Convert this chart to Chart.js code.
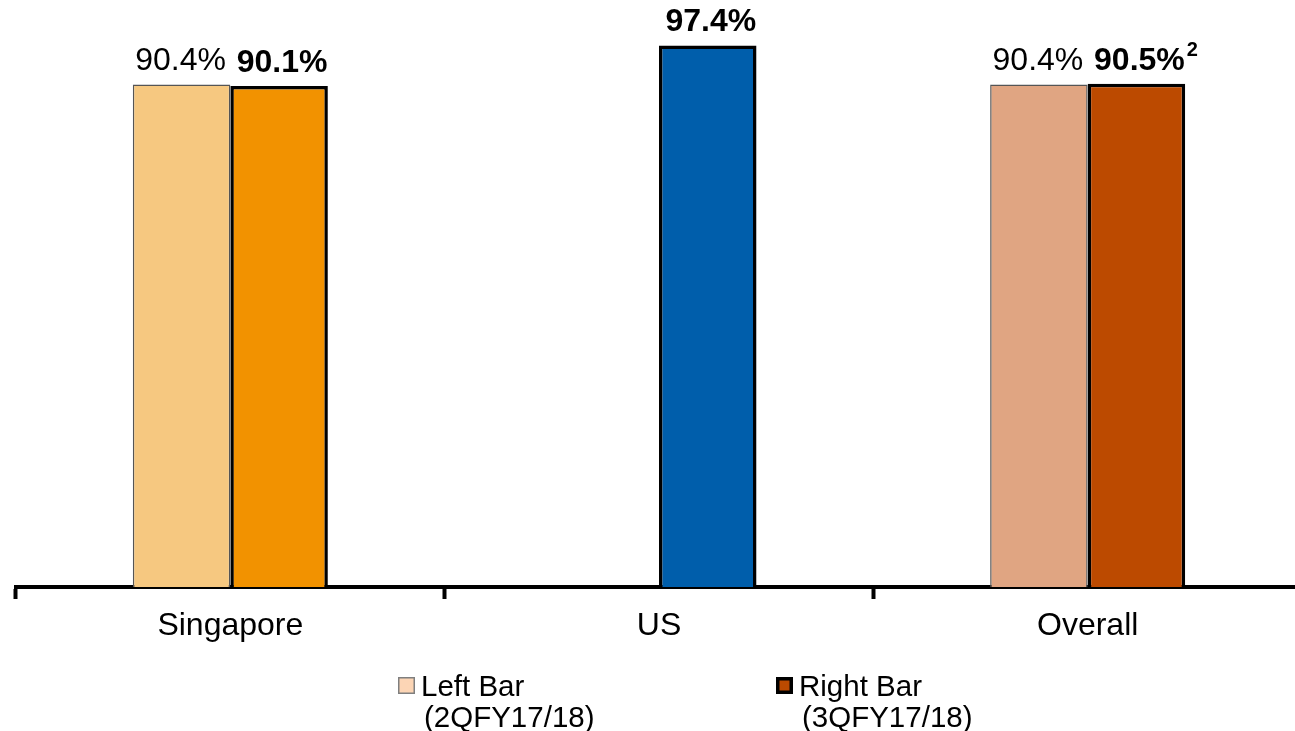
<!DOCTYPE html>
<html>
<head>
<meta charset="utf-8">
<script src="https://cdn.jsdelivr.net/npm/chart.js@4"></script>
<style>
  html, body { margin: 0; padding: 0; background: #fff; overflow: hidden; }
  #wrap { width: 1302px; height: 731px; position: relative; }
</style>
</head>
<body>
<div id="wrap"><canvas id="chart"></canvas></div>
<script>
const FONT = '"Liberation Sans", Arial, sans-serif';

// --- Data ---
const categories = ['Singapore', 'US', 'Overall'];
const leftValues = [90.4, null, 90.4];     // 2QFY17/18
const rightValues = [90.1, 97.4, 90.5];    // 3QFY17/18
const rightNotes = ['', '', '2'];          // superscript footnotes
const legendLabels = [['Left Bar', '(2QFY17/18)'], ['Right Bar', '(3QFY17/18)']];

const leftColors = ['#F6C880', 'rgba(0,0,0,0)', '#E0A582'];
const rightColors = ['#F29200', '#005EAB', '#BC4A00'];

// --- Plugins ---
const valueLabels = {
  id: 'valueLabels',
  afterDatasetsDraw(chart) {
    const { ctx } = chart;
    ctx.save();
    ctx.fillStyle = '#000';
    ctx.textAlign = 'center';
    ctx.textBaseline = 'alphabetic';
    chart.data.datasets.forEach((ds, di) => {
      const meta = chart.getDatasetMeta(di);
      meta.data.forEach((bar, i) => {
        const v = ds.data[i];
        if (v === null) return;
        ctx.font = (di === 1 ? 'bold ' : '') + '32px ' + FONT;
        const text = v.toFixed(1) + '%';
        const y = bar.y - 14;
        const x = bar.x + (di === 1 ? 3 : -1);
        ctx.fillText(text, x, y);
        const note = di === 1 ? rightNotes[i] : '';
        if (note) {
          const w = ctx.measureText(text).width;
          ctx.font = 'bold 20px ' + FONT;
          ctx.textAlign = 'left';
          ctx.fillText(note, x + w / 2 + 2, y - 14);
          ctx.textAlign = 'center';
        }
      });
    });
    ctx.restore();
  }
};

const legendBox = {
  id: 'legendBox',
  afterDraw(chart) {
    const { ctx } = chart;
    const items = [
      { x: 398, fill: '#FCD5B5', stroke: '#7F7F7F', lw: 1.5 },
      { x: 776, fill: '#BC4A00', stroke: '#000', lw: 3.5 }
    ];
    ctx.save();
    ctx.font = '29.5px ' + FONT;
    ctx.textBaseline = 'alphabetic';
    items.forEach((it, k) => {
      ctx.fillStyle = it.fill;
      ctx.fillRect(it.x, 677, 17, 17);
      ctx.strokeStyle = it.stroke;
      ctx.lineWidth = it.lw;
      ctx.strokeRect(it.x + it.lw / 2, 677 + it.lw / 2, 17 - it.lw, 17 - it.lw);
      ctx.fillStyle = '#000';
      ctx.fillText(legendLabels[k][0], it.x + 23, 696);
      ctx.fillText(legendLabels[k][1], it.x + 26, 727);
    });
    ctx.restore();
  }
};

// --- Chart ---
new Chart(document.getElementById('chart'), {
  type: 'bar',
  data: {
    labels: categories,
    datasets: [
      {
        label: legendLabels[0].join(' '),
        data: leftValues,
        backgroundColor: leftColors,
        borderColor: '#555',
        borderWidth: 1.5,
        borderSkipped: 'start',
        categoryPercentage: 0.455,
        barPercentage: 1
      },
      {
        label: legendLabels[1].join(' '),
        data: rightValues,
        backgroundColor: rightColors,
        borderColor: '#000',
        borderWidth: 3.5,
        borderSkipped: 'start',
        categoryPercentage: 0.455,
        barPercentage: 1
      }
    ]
  },
  options: {
    responsive: true,
    maintainAspectRatio: false,
    animation: false,
    layout: { padding: { left: 16, right: 0, top: 31, bottom: 0 } },
    plugins: {
      legend: { display: false },
      tooltip: { enabled: false }
    },
    scales: {
      x: {
        offset: true,
        afterFit(scale) { scale.height = 144; },
        grid: {
          offset: true,
          drawOnChartArea: false,
          drawTicks: true,
          tickLength: 12,
          tickWidth: 4,
          tickColor: '#000'
        },
        border: { display: true, color: '#000', width: 4 },
        ticks: {
          color: '#000',
          padding: 8,
          font: { family: FONT, size: 32 }
        }
      },
      y: {
        display: false,
        min: 0,
        max: 100
      }
    }
  },
  plugins: [valueLabels, legendBox]
});
</script>
</body>
</html>
